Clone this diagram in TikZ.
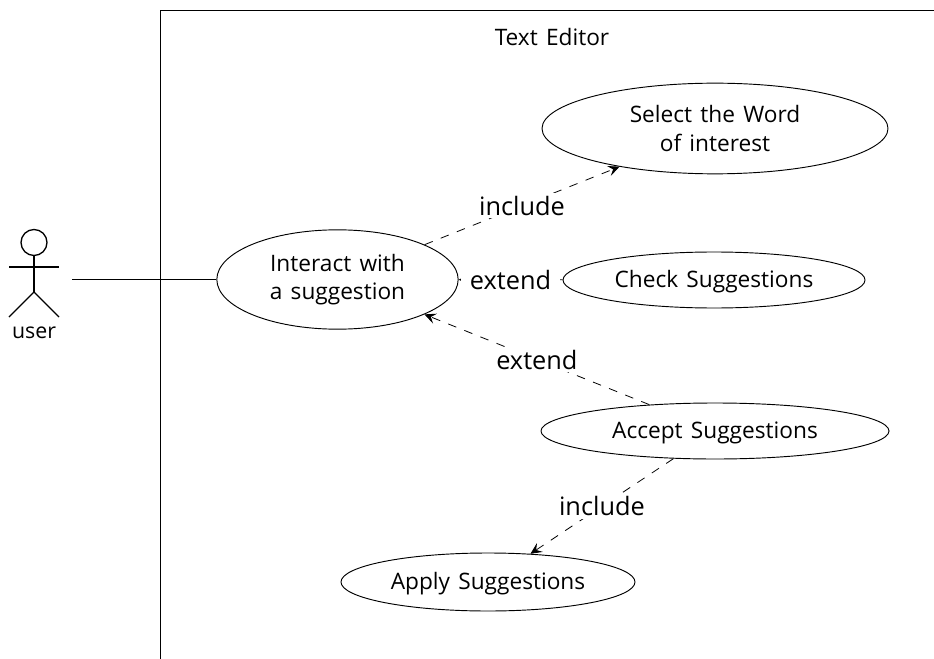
\documentclass[tikz,border=0pt]{standalone}
\usepackage{fontspec}
\setmainfont[WordSpace = 1.4]{Open Sans}
\usetikzlibrary{arrows.meta, shapes.geometric, positioning}
\tikzset{> = { Stealth[length = 3mm, width = 2.8mm, inset = 1.2mm] }}
\tikzset{usecase/.style = {draw, ellipse, line width = 0.7pt, inner sep = 0pt, align = center, font = \fontsize{17}{21.5}\selectfont}}
\tikzset{oneline/.style = {usecase, text height = 15pt}}
\tikzset{relation/.style = {dash pattern = on 6.5pt off 6.5pt, line width = 0.6pt}}
\tikzset{relabel/.style = {fill = white, inner xsep = 3pt, inner ysep = 2pt, font = \fontsize{19}{22}\selectfont}}

\begin{document}
\begin{tikzpicture}[x = 0.75pt, y = -0.75pt]
		\useasboundingbox (0, 0) rectangle (934, 659);
		\draw [line width = 0.7pt] (160.5, 659) -- (160.5, 10.5) -- (934, 10.5);
		\node [font = \fontsize{17}{21.5}\selectfont] (title) at (552, 37) {Text Editor};

		\node [usecase, minimum width = 259.5pt, minimum height = 68pt] (select) at (715, 128.5) {Select the Word\\of interest};
		\node [usecase, minimum width = 181pt, minimum height = 74.5pt] (interact) at (337.5, 279.5) {Interact with\\a suggestion};
		\node [oneline, minimum width = 226.5pt, minimum height = 42pt] (check) at (714, 280) {Check Suggestions};
		\node [oneline, minimum width = 261pt, minimum height = 42pt] (accept) at (715, 431) {Accept Suggestions};
		\node [oneline, minimum width = 220.5pt, minimum height = 43.5pt] (apply) at (488, 582) {Apply Suggestions};

		\node [draw, circle, line width = 1pt, minimum size = 19.5pt, inner sep = 0pt] (head) at (34, 242.5) {};
		\coordinate (hip) at (34, 292);
		\coordinate (handL) at (9, 267);
		\coordinate (handR) at (59, 267);
		\coordinate (footL) at (9, 317);
		\coordinate (footR) at (59, 317);
		\draw [line width = 1pt] (head) -- (hip);
		\draw [line width = 1pt] (handL) -- (handR);
		\draw [line width = 1pt] (footL) -- (hip) -- (footR);
		\node [font = \fontsize{16}{20}\selectfont] (user) at (34, 333) {user};

		\coordinate (actor) at (72, 279.5);
		\draw [line width = 0.7pt] (actor) -- (interact);

		\draw [relation, ->] (interact) -- node[relabel]{include} (select);
		\draw [relation, ->] (check) -- node[relabel, inner xsep = 6.5pt]{extend} (interact);
		\draw [relation, ->] (accept) -- node[relabel]{extend} (interact);
		\draw [relation, ->] (accept) -- node[relabel]{include} (apply);
	\end{tikzpicture}
\end{document}
